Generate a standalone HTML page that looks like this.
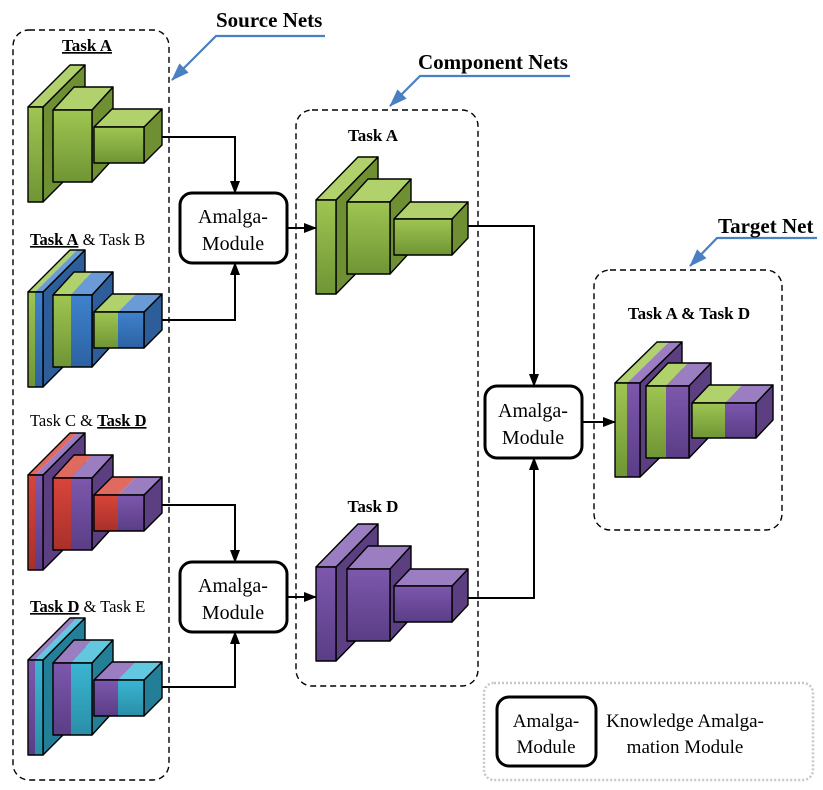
<!DOCTYPE html>
<html><head><meta charset="utf-8"><style>
html,body{margin:0;padding:0;background:#fff;}
svg{display:block;}
text{font-family:"Liberation Serif",serif;fill:#000;}
.b{font-weight:bold;}
</style></head><body>
<svg id="s" width="823" height="790" viewBox="0 0 823 790" xmlns="http://www.w3.org/2000/svg">
<defs>
<linearGradient id="gg" x1="0" y1="0" x2="0" y2="1"><stop offset="0" stop-color="#9fc552"/><stop offset="1" stop-color="#6f9535"/></linearGradient>
<linearGradient id="gb" x1="0" y1="0" x2="0" y2="1"><stop offset="0" stop-color="#3f82cc"/><stop offset="1" stop-color="#2c62a3"/></linearGradient>
<linearGradient id="gp" x1="0" y1="0" x2="0" y2="1"><stop offset="0" stop-color="#7d58ad"/><stop offset="1" stop-color="#5a3d86"/></linearGradient>
<linearGradient id="gr" x1="0" y1="0" x2="0" y2="1"><stop offset="0" stop-color="#d8453a"/><stop offset="1" stop-color="#a8302a"/></linearGradient>
<linearGradient id="gt" x1="0" y1="0" x2="0" y2="1"><stop offset="0" stop-color="#3ab5d2"/><stop offset="1" stop-color="#2a8ea8"/></linearGradient>
<marker id="ar" markerWidth="13" markerHeight="10" refX="12" refY="5" orient="auto" markerUnits="userSpaceOnUse"><path d="M0,0 L13,5 L0,10 z" fill="#000"/></marker>
<marker id="ab" markerWidth="18" markerHeight="13" refX="17" refY="6.5" orient="auto" markerUnits="userSpaceOnUse"><path d="M0,0 L18,6.5 L0,13 z" fill="#4a7fc1"/></marker>
</defs>

<g fill="none" stroke="#000" stroke-width="1.4" stroke-dasharray="6,4">
<rect x="13" y="30" width="156" height="750" rx="16"/>
<rect x="296" y="110" width="182" height="576" rx="16"/>
<rect x="594" y="270" width="188" height="260" rx="16"/>
</g>
<rect x="484" y="683" width="329" height="97" rx="10" fill="none" stroke="#c8c8c8" stroke-width="2.5" stroke-dasharray="2,2"/>

<g stroke="#4a7fc1" stroke-width="2.2" fill="none">
<polyline points="325,36 216,36 172,80" marker-end="url(#ab)"/>
<polyline points="570,76 420,76 390,106" marker-end="url(#ab)"/>
<polyline points="817,238 717,238 690,266" marker-end="url(#ab)"/>
</g>
<text x="216" y="27" class="b" font-size="21">Source Nets</text>
<text x="418" y="69" class="b" font-size="21">Component Nets</text>
<text x="718" y="233" class="b" font-size="21">Target Net</text>

<text x="87" y="51" class="b" font-size="17" text-anchor="middle" text-decoration="underline">Task A</text>
<text x="30" y="245" font-size="16.5"><tspan class="b" text-decoration="underline">Task A</tspan> &amp; Task B</text>
<text x="30" y="426" font-size="16.5">Task C &amp; <tspan class="b" text-decoration="underline">Task D</tspan></text>
<text x="30" y="612" font-size="16.5"><tspan class="b" text-decoration="underline">Task D</tspan> &amp; Task E</text>
<text x="373" y="141" class="b" font-size="17" text-anchor="middle">Task A</text>
<text x="373" y="512" class="b" font-size="17" text-anchor="middle">Task D</text>
<text x="689" y="319" class="b" font-size="17" text-anchor="middle">Task A &amp; Task D</text>

<g stroke="#000" stroke-width="2" fill="none">
<polyline points="153,137 235,137 235,193" marker-end="url(#ar)"/>
<polyline points="153,320 235,320 235,263" marker-end="url(#ar)"/>
<polyline points="287,228 316,228" marker-end="url(#ar)"/>
<polyline points="153,505 235,505 235,562" marker-end="url(#ar)"/>
<polyline points="153,687 235,687 235,632" marker-end="url(#ar)"/>
<polyline points="287,597 316,597" marker-end="url(#ar)"/>
<polyline points="460,226 534,226 534,386" marker-end="url(#ar)"/>
<polyline points="460,598 534,598 534,458" marker-end="url(#ar)"/>
<polyline points="582,422 615,422" marker-end="url(#ar)"/>
</g>

<g fill="#fff" stroke="#000" stroke-width="3">
<rect x="180" y="193" width="107" height="70" rx="12"/>
<rect x="180" y="562" width="107" height="70" rx="12"/>
<rect x="485" y="386" width="97" height="72" rx="12"/>
<rect x="497" y="697" width="99" height="69" rx="12"/>
</g>
<g font-size="20" text-anchor="middle">
<text x="233" y="223">Amalga-</text><text x="233" y="250">Module</text>
<text x="233" y="592">Amalga-</text><text x="233" y="619">Module</text>
<text x="533" y="417">Amalga-</text><text x="533" y="444">Module</text>
</g>
<g font-size="19" text-anchor="middle">
<text x="546" y="727">Amalga-</text><text x="546" y="753">Module</text>
<text x="685" y="727">Knowledge Amalga-</text><text x="685" y="753">mation Module</text>
</g>

<g id="nets" stroke="#000" stroke-width="1.4" stroke-linejoin="round"></g>
</svg>
<script>
(function(){
var C={g:{f:'url(#gg)',t:'#b0d16c',s:'#6e8f32'},b:{f:'url(#gb)',t:'#6a9bd6',s:'#2d5e99'},
p:{f:'url(#gp)',t:'#9b7dc2',s:'#5b3f80'},r:{f:'url(#gr)',t:'#de6a60',s:'#8a2a24'},
t:{f:'url(#gt)',t:'#62c8e0',s:'#237f98'}};
var G=document.getElementById('nets');var NS='http://www.w3.org/2000/svg';
function poly(pts,fill,st){var e=document.createElementNS(NS,'polygon');e.setAttribute('points',pts.map(function(p){return p[0]+','+p[1]}).join(' '));e.setAttribute('fill',fill);if(st===false)e.setAttribute('stroke','none');G.appendChild(e);}
function cub(x,y,w,h,dx,dy,c1,c2,sp){
 var A=C[c1],B=c2?C[c2]:A;
 poly([[x+w,y],[x+w+dx,y+dy],[x+w+dx,y+h+dy],[x+w,y+h]],B.s);
 if(!c2){
  poly([[x,y],[x+dx,y+dy],[x+w+dx,y+dy],[x+w,y]],A.t);
  poly([[x,y],[x+w,y],[x+w,y+h],[x,y+h]],A.f);
 }else{
  poly([[x,y],[x+dx,y+dy],[x+sp+dx,y+dy],[x+sp,y]],A.t,false);
  poly([[x+sp,y],[x+sp+dx,y+dy],[x+w+dx,y+dy],[x+w,y]],B.t,false);
  poly([[x,y],[x+dx,y+dy],[x+w+dx,y+dy],[x+w,y]],'none');
  poly([[x,y],[x+sp,y],[x+sp,y+h],[x,y+h]],A.f,false);
  poly([[x+sp,y],[x+w,y],[x+w,y+h],[x+sp,y+h]],B.f,false);
  poly([[x,y],[x+w,y],[x+w,y+h],[x,y+h]],'none');
 }
}
function net(ox,oy,S,c1,c2,sp){S.forEach(function(b,i){cub(ox+b[0],oy+b[1],b[2],b[3],b[4],b[5],c1,c2,sp?sp[i]:0);});}
var S=[[0,0,15,95,42,-42],[25,3,39,72,21,-23],[66,20,50,36,18,-18]],SP=[7,18,24];
var K=[[0,0,20,94,42,-43],[31,2,43,72,21,-23],[78,19,58,36,16,-17]];
var T=[[0,0,25,94,42,-41],[31,3,43,72,22,-23],[77,20,64,35,17,-18]],TP=[12,20,33];
net(28,107,S,'g');
net(28,292,S,'g','b',SP);
net(28,475,S,'r','p',SP);
net(28,660,S,'p','t',SP);
net(316,200,K,'g');
net(316,567,K,'p');
net(615,383,T,'g','p',TP);
})();
</script>
</body></html>
